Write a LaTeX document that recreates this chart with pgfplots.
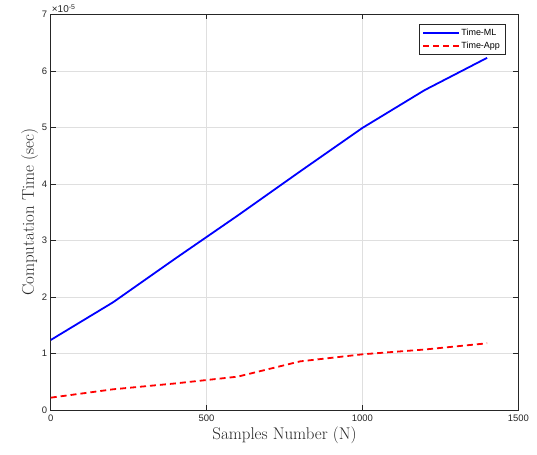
\documentclass[border=0pt]{standalone}
\usepackage{pgfplots}
\pgfplotsset{compat=1.18}
\usepackage{fontspec}
\newfontfamily\arialfont{Liberation Sans}
\begin{document}
\begin{tikzpicture}
\definecolor{axgray}{RGB}{38,38,38}
\definecolor{gridgray}{RGB}{223,223,223}
\begin{axis}[
  name=ax,
  scale only axis,
  width=467.6bp, height=395.7bp,
  xmin=0, xmax=1500, ymin=0, ymax=7e-5,
  xtick={0,500,1000,1500},
  ytick={0,1e-5,2e-5,3e-5,4e-5,5e-5,6e-5,7e-5},
  scaled x ticks=false,
  scaled y ticks=base 10:5,
  ytick scale label code/.code={{\arialfont\fontsize{10}{11}\selectfont ×10\textsuperscript{-5}}},
  every y tick scale label/.style={at={(rel axis cs:0,1)},anchor=south west,inner sep=1pt,text=axgray},
  /pgf/number format/assume math mode=true,
  /pgf/number format/1000 sep={},
  tick label style={font=\arialfont\fontsize{9.5}{11}\selectfont, text=axgray},
  xticklabel style={yshift=-1bp},
  tick align=inside,
  major tick length=5bp,
  every tick/.style={axgray, line width=0.6bp},
  axis line style={axgray, line width=0.7bp},
  grid=major,
  major grid style={gridgray, line width=0.6bp},
  xlabel={Samples Number (N)},
  ylabel={Computation Time (sec)},
  label style={font=\fontsize{17}{20}\selectfont, text=axgray},
  xlabel style={yshift=1bp},
  ylabel style={yshift=-3bp},
  legend style={at={(rel axis cs:0.972,0.975)}, anchor=north east, font=\arialfont\fontsize{9}{10}\selectfont, draw=axgray, line width=0.6bp, inner xsep=3pt, inner ysep=2.5pt, row sep=1pt},
  legend cell align=left,
  legend image code/.code={\draw[#1] (0cm,0cm) -- (1.25cm,0cm);},
]
\addplot[blue, line width=1.8bp] coordinates {
 (0,1.238e-5) (200,1.905e-5) (400,2.68e-5) (600,3.44e-5) (800,4.22e-5) (1000,4.99e-5) (1200,5.66e-5) (1400,6.23e-5)};
\addlegendentry{Time-ML}
\addplot[red, line width=1.8bp, dash pattern=on 6bp off 4bp] coordinates {
 (0,0.218e-5) (200,0.366e-5) (400,0.47e-5) (600,0.59e-5) (800,0.86e-5) (1000,0.985e-5) (1200,1.07e-5) (1400,1.18e-5)};
\addlegendentry{Time-App}
\end{axis}
\useasboundingbox ([xshift=-50.7bp,yshift=-45bp]ax.south west) rectangle ([xshift=18.7bp,yshift=14.3bp]ax.north east);
\end{tikzpicture}
\end{document}
